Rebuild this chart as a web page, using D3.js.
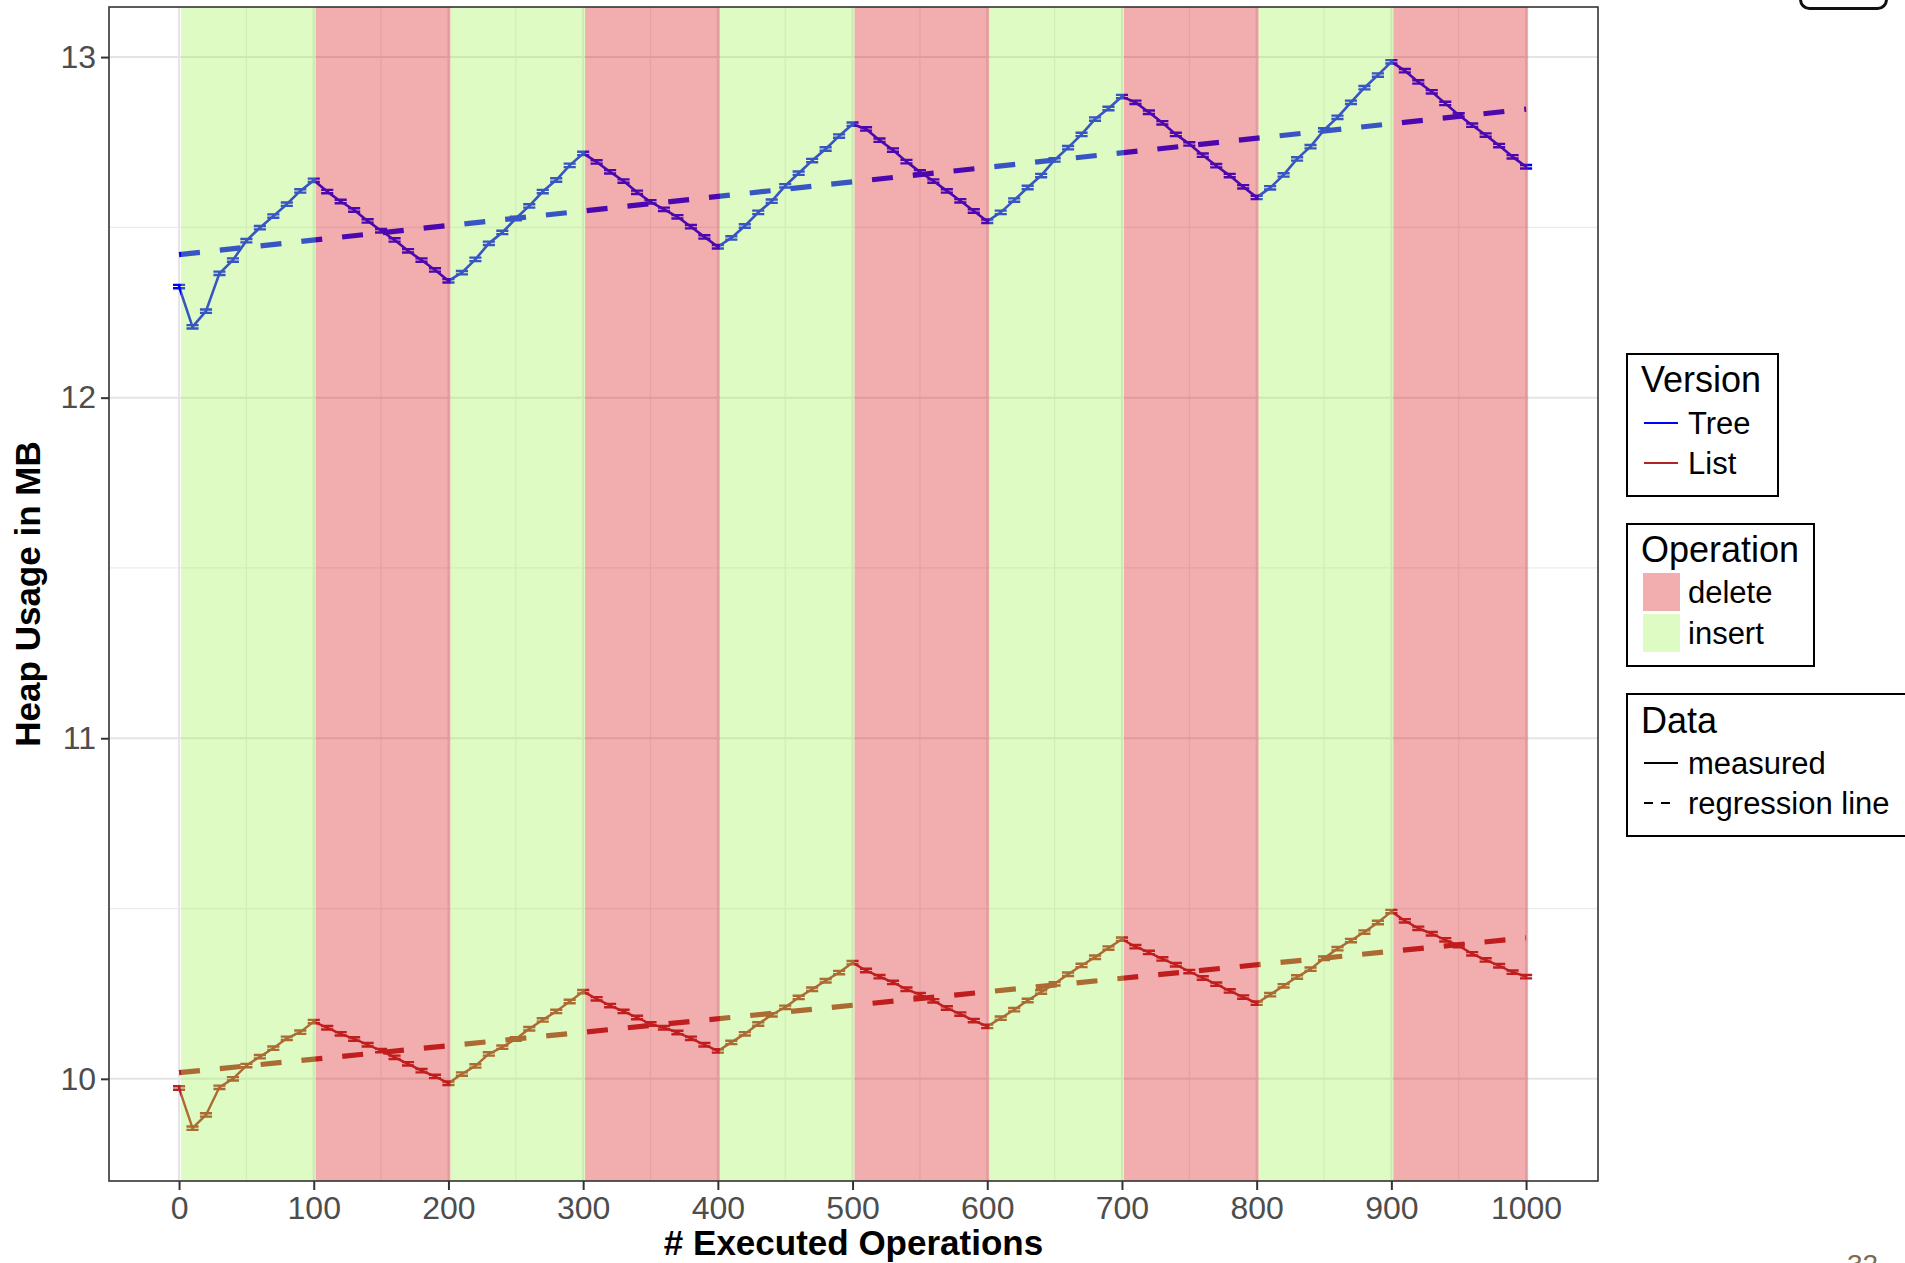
<!DOCTYPE html>
<html>
<head>
<meta charset="utf-8">
<script src="https://cdn.jsdelivr.net/npm/d3@7"></script>
<style>
  html, body { margin: 0; padding: 0; background: #fff; }
  svg { display: block; }
  text { font-family: "Liberation Sans", Arial, Helvetica, sans-serif; }
</style>
</head>
<body>
<svg id="chart" width="1905" height="1263"></svg>
<script>
// Number of executed operations at each measurement
const opCounts = d3.range(0, 1001, 10);

// Measured heap usage (MB), one value per entry of opCounts
const treeHeap = [
  12.326, 12.208, 12.254, 12.365, 12.404, 12.461, 12.499, 12.533, 12.568, 12.607,
  12.638, 12.605, 12.576, 12.551, 12.519, 12.490, 12.463, 12.431, 12.404, 12.375,
  12.343, 12.367, 12.406, 12.453, 12.485, 12.526, 12.563, 12.605, 12.639, 12.682,
  12.717, 12.692, 12.663, 12.636, 12.603, 12.575, 12.553, 12.531, 12.502, 12.472,
  12.443, 12.469, 12.504, 12.544, 12.577, 12.622, 12.659, 12.696, 12.730, 12.768,
  12.803, 12.789, 12.756, 12.727, 12.693, 12.663, 12.636, 12.607, 12.578, 12.548,
  12.518, 12.544, 12.580, 12.617, 12.652, 12.698, 12.734, 12.773, 12.818, 12.849,
  12.884, 12.867, 12.838, 12.807, 12.773, 12.745, 12.712, 12.681, 12.652, 12.619,
  12.588, 12.616, 12.654, 12.701, 12.737, 12.786, 12.823, 12.867, 12.910, 12.947,
  12.986, 12.960, 12.927, 12.898, 12.864, 12.830, 12.800, 12.771, 12.740, 12.707,
  12.678
];
const listHeap = [
   9.973,  9.855,  9.894,  9.975, 10.000, 10.039, 10.065, 10.090, 10.119, 10.137,
  10.168, 10.150, 10.132, 10.117, 10.100, 10.083, 10.063, 10.044, 10.024, 10.007,
   9.987, 10.014, 10.038, 10.073, 10.093, 10.117, 10.147, 10.173, 10.198, 10.227,
  10.256, 10.235, 10.215, 10.198, 10.180, 10.161, 10.150, 10.136, 10.119, 10.100,
  10.082, 10.107, 10.132, 10.161, 10.188, 10.210, 10.239, 10.263, 10.288, 10.312,
  10.341, 10.318, 10.300, 10.283, 10.263, 10.247, 10.229, 10.208, 10.190, 10.171,
  10.154, 10.178, 10.203, 10.230, 10.255, 10.279, 10.307, 10.333, 10.357, 10.384,
  10.410, 10.388, 10.371, 10.352, 10.335, 10.315, 10.296, 10.278, 10.258, 10.240,
  10.222, 10.247, 10.273, 10.299, 10.322, 10.354, 10.382, 10.406, 10.431, 10.459,
  10.491, 10.464, 10.442, 10.426, 10.408, 10.391, 10.367, 10.349, 10.332, 10.313,
  10.300
];

// Regression line end points (ops 0 and 1000)
const regressionOps = [0, 1000];
const treeRegression = [12.42, 12.847];
const listRegression = [10.018, 10.414];

// Half-height of the error bars (MB)
const heapError = 0.005;

// Operation phases: each block of 100 operations
const phaseStarts = [0, 100, 200, 300, 400, 500, 600, 700, 800, 900];
const phaseOps = ["insert", "delete", "insert", "delete", "insert", "delete", "insert", "delete", "insert", "delete"];

// Axis ticks
const xTicks = [0, 100, 200, 300, 400, 500, 600, 700, 800, 900, 1000];
const xMinor = [50, 150, 250, 350, 450, 550, 650, 750, 850, 950];
const yTicks = [10, 11, 12, 13];
const yMinor = [10.5, 11.5, 12.5];

// Legend entries
const versionNames = ["Tree", "List"];
const operationNames = ["delete", "insert"];
const dataNames = ["measured", "regression line"];

const versionColor = { Tree: "#0000ff", List: "#b22222" };
const opFill = { delete: "#da1717", insert: "#9ef454" };
const opAlpha = 0.35;

const svg = d3.select("#chart");
const panel = { left: 109, right: 1598, top: 7, bottom: 1181 };

const x = d3.scaleLinear().domain([-52, 1053.4]).range([panel.left, panel.right]);
const y = d3.scaleLinear().domain([9.70, 13.147]).range([panel.bottom, panel.top]);

svg.append("defs").append("clipPath").attr("id", "panelClip")
  .append("rect")
  .attr("x", panel.left).attr("y", panel.top)
  .attr("width", panel.right - panel.left).attr("height", panel.bottom - panel.top);

const plot = svg.append("g").attr("clip-path", "url(#panelClip)");

// panel background
plot.append("rect")
  .attr("x", panel.left).attr("y", panel.top)
  .attr("width", panel.right - panel.left).attr("height", panel.bottom - panel.top)
  .attr("fill", "#ffffff");

// minor grid
plot.append("g").selectAll("line.vminor").data(xMinor).join("line")
  .attr("x1", d => x(d)).attr("x2", d => x(d))
  .attr("y1", panel.top).attr("y2", panel.bottom)
  .attr("stroke", "#ececec").attr("stroke-width", 1.2);
plot.append("g").selectAll("line.hminor").data(yMinor).join("line")
  .attr("y1", d => y(d)).attr("y2", d => y(d))
  .attr("x1", panel.left).attr("x2", panel.right)
  .attr("stroke", "#ececec").attr("stroke-width", 1.2);

// major grid
plot.append("g").selectAll("line").data(xTicks).join("line")
  .attr("x1", d => x(d)).attr("x2", d => x(d))
  .attr("y1", panel.top).attr("y2", panel.bottom)
  .attr("stroke", "#e4e4e4").attr("stroke-width", 2);
plot.append("g").selectAll("line").data(yTicks).join("line")
  .attr("y1", d => y(d)).attr("y2", d => y(d))
  .attr("x1", panel.left).attr("x2", panel.right)
  .attr("stroke", "#e4e4e4").attr("stroke-width", 2);

// measured series
const series = [
  { name: "Tree", values: treeHeap, reg: treeRegression, width: 2.6 },
  { name: "List", values: listHeap, reg: listRegression, width: 2.4 }
];

const line = d3.line().x(d => x(d[0])).y(d => y(d[1]));

series.forEach(s => {
  const pts = opCounts.map((o, i) => [o, s.values[i]]);
  const col = versionColor[s.name];
  plot.append("path")
    .attr("d", line(pts))
    .attr("fill", "none")
    .attr("stroke", col)
    .attr("stroke-width", s.width)
    .attr("stroke-linejoin", "round");

  // error bars
  const capHalf = 4.5;
  plot.append("g").selectAll("path").data(pts).join("path")
    .attr("d", d => {
      const x0 = x(d[0] - capHalf), x1 = x(d[0] + capHalf), xc = x(d[0]);
      const yt = y(d[1] + heapError), yb = y(d[1] - heapError);
      return `M${x0},${yt}H${x1}M${xc},${yt}V${yb}M${x0},${yb}H${x1}`;
    })
    .attr("fill", "none")
    .attr("stroke", col)
    .attr("stroke-width", 2.4);

  // regression line
  plot.append("path")
    .attr("d", line(regressionOps.map((o, i) => [o, s.reg[i]])))
    .attr("fill", "none")
    .attr("stroke", col)
    .attr("stroke-width", 5.2)
    .attr("stroke-dasharray", "21 20");
});

// operation phases, laid translucently over the data
plot.append("g").selectAll("rect").data(phaseStarts).join("rect")
  .attr("x", d => x(d + 1.5))
  .attr("width", d => x(d + 101.5) - x(d + 1.5))
  .attr("y", panel.top).attr("height", panel.bottom - panel.top)
  .attr("fill", (d, i) => opFill[phaseOps[i]])
  .attr("fill-opacity", opAlpha);

// panel border
svg.append("rect")
  .attr("x", panel.left).attr("y", panel.top)
  .attr("width", panel.right - panel.left).attr("height", panel.bottom - panel.top)
  .attr("fill", "none").attr("stroke", "#333333").attr("stroke-width", 1.6);

// axes
const xAxis = svg.append("g").attr("transform", `translate(0,${panel.bottom})`)
  .call(d3.axisBottom(x).tickValues(xTicks).tickSize(9).tickPadding(6).tickFormat(d3.format("d")));
const yAxis = svg.append("g").attr("transform", `translate(${panel.left},0)`)
  .call(d3.axisLeft(y).tickValues(yTicks).tickSize(8).tickPadding(5).tickFormat(d3.format("d")));
[xAxis, yAxis].forEach(a => {
  a.select(".domain").remove();
  a.selectAll(".tick line").attr("stroke", "#333333").attr("stroke-width", 2);
  a.selectAll(".tick text")
    .attr("fill", "#4d4d4d")
    .style("font-size", "32px")
    .style("font-family", "'Liberation Sans', Arial, sans-serif");
});
xAxis.selectAll(".tick text").attr("dy", "0.71em").attr("y", 15);

// axis titles
svg.append("text")
  .attr("x", (panel.left + panel.right) / 2).attr("y", 1255)
  .attr("text-anchor", "middle")
  .style("font-size", "35px").style("font-weight", "bold")
  .attr("fill", "#000")
  .text("# Executed Operations");
svg.append("text")
  .attr("transform", `translate(40,${(panel.top + panel.bottom) / 2}) rotate(-90)`)
  .attr("text-anchor", "middle")
  .style("font-size", "35px").style("font-weight", "bold")
  .attr("fill", "#000")
  .text("Heap Usage in MB");

// legends
const legend = svg.append("g");
function box(x0, y0, x1, y1) {
  legend.append("rect")
    .attr("x", x0).attr("y", y0).attr("width", x1 - x0).attr("height", y1 - y0)
    .attr("fill", "#fff").attr("stroke", "#000").attr("stroke-width", 2);
}
function title(t, x0, yb) {
  legend.append("text").attr("x", x0).attr("y", yb)
    .style("font-size", "36px").attr("fill", "#000").text(t);
}
function label(t, x0, yb) {
  legend.append("text").attr("x", x0).attr("y", yb)
    .style("font-size", "31px").attr("fill", "#000").text(t);
}

// Version
box(1627, 354, 1778, 496);
title("Version", 1641, 392);
versionNames.forEach((n, i) => {
  const ky = 423 + i * 40;
  legend.append("line").attr("x1", 1644).attr("x2", 1678).attr("y1", ky).attr("y2", ky)
    .attr("stroke", versionColor[n]).attr("stroke-width", 2);
  label(n, 1688, ky + 11);
});

// Operation
box(1627, 524, 1814, 666);
title("Operation", 1641, 562);
operationNames.forEach((n, i) => {
  const ky = 573 + i * 41;
  legend.append("rect").attr("x", 1643).attr("y", ky).attr("width", 37).attr("height", 38)
    .attr("fill", opFill[n]).attr("fill-opacity", opAlpha);
  label(n, 1688, ky + 30);
});

// Data
box(1627, 694, 1915, 836);
title("Data", 1641, 733);
dataNames.forEach((n, i) => {
  const ky = 763 + i * 40;
  legend.append("line").attr("x1", 1644).attr("x2", 1678).attr("y1", ky).attr("y2", ky)
    .attr("stroke", "#000").attr("stroke-width", 2)
    .attr("stroke-dasharray", i === 1 ? "9 8" : null);
  label(n, 1688, ky + 11);
});

// slide furniture: frame at the top right and page number
svg.append("rect")
  .attr("x", 1800.5).attr("y", -30).attr("width", 86).attr("height", 38.5).attr("rx", 9)
  .attr("fill", "none").attr("stroke", "#111").attr("stroke-width", 3);
svg.append("text")
  .attr("x", 1847).attr("y", 1274)
  .style("font-size", "28px").attr("fill", "#7a6a50")
  .text("32");
</script>
</body>
</html>
